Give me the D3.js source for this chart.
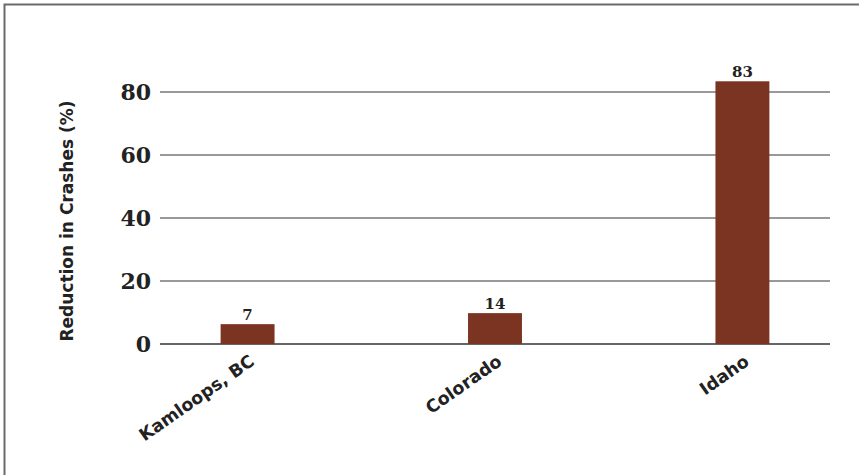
<!DOCTYPE html>
<html lang="en">
<head>
    <meta charset="UTF-8">
    <title>Reduction in Crashes</title>
    <script src="https://d3js.org/d3.v7.min.js"></script>
    <style>
      body { margin: 0; background: #fff; }
    </style>
</head>
<body>
    <script>

      // Data
      const categories = ["Kamloops, BC", "Colorado", "Idaho"];
      const barValues = [6.3, 9.8, 83.4];      // bar heights as drawn
      const valueLabels = ["7", "14", "83"];   // printed on top of bars
      const yTicks = [0, 20, 40, 60, 80];

      const width = 859, height = 475;
      const svg = d3.select("body").append("svg")
        .attr("width", width).attr("height", height);

      // frame (top and left edge visible)
      svg.append("path")
        .attr("d", `M4.5,${height} L4.5,4.5 L${width},4.5`)
        .attr("fill", "none")
        .attr("stroke", "#6a6a6a")
        .attr("stroke-width", 2);

      const x = d3.scaleBand()
        .domain(categories)
        .range([160, 830])
        .paddingInner(0.782)
        .paddingOuter(0.245);

      const y = d3.scaleLinear()
        .domain([0, 80])
        .range([344, 92]);

      // gridlines
      svg.append("g").selectAll("line")
        .data(yTicks)
        .enter().append("line")
        .attr("x1", 160).attr("x2", 830)
        .attr("y1", d => y(d)).attr("y2", d => y(d))
        .attr("stroke", d => d === 0 ? "#333" : "#777")
        .attr("stroke-width", 1.3);

      // y tick labels
      svg.append("g").selectAll("text")
        .data(yTicks)
        .enter().append("text")
        .attr("x", 151)
        .attr("y", d => y(d))
        .attr("dy", "0.36em")
        .attr("text-anchor", "end")
        .attr("font-family", "DejaVu Serif")
        .attr("font-weight", "bold")
        .attr("font-size", 22)
        .attr("fill", "#222")
        .text(d => d);

      // bars
      svg.append("g").selectAll("rect")
        .data(categories)
        .enter().append("rect")
        .attr("x", d => x(d))
        .attr("width", x.bandwidth())
        .attr("y", (d, i) => y(barValues[i]))
        .attr("height", (d, i) => y(0) - y(barValues[i]))
        .attr("fill", "#7c3422");

      // value labels
      svg.append("g").selectAll("text")
        .data(categories)
        .enter().append("text")
        .attr("x", d => x(d) + x.bandwidth() / 2)
        .attr("y", (d, i) => y(barValues[i]) - 4)
        .attr("text-anchor", "middle")
        .attr("font-family", "DejaVu Serif")
        .attr("font-weight", "bold")
        .attr("font-size", 15)
        .attr("fill", "#222")
        .text((d, i) => valueLabels[i]);

      // category labels, rotated
      svg.append("g").selectAll("text")
        .data(categories)
        .enter().append("text")
        .attr("transform", d => `translate(${x(d) + x.bandwidth() / 2 + 8},364) rotate(-35)`)
        .attr("text-anchor", "end")
        .attr("font-family", "DejaVu Sans")
        .attr("font-weight", "bold")
        .attr("font-size", 17.5)
        .attr("fill", "#222")
        .text(d => d);

      // y axis title
      svg.append("text")
        .attr("transform", "translate(73,221) rotate(-90)")
        .attr("text-anchor", "middle")
        .attr("font-family", "DejaVu Sans")
        .attr("font-weight", "bold")
        .attr("font-size", 17)
        .attr("fill", "#222")
        .text("Reduction in Crashes (%)");

    </script>
</body>
</html>
